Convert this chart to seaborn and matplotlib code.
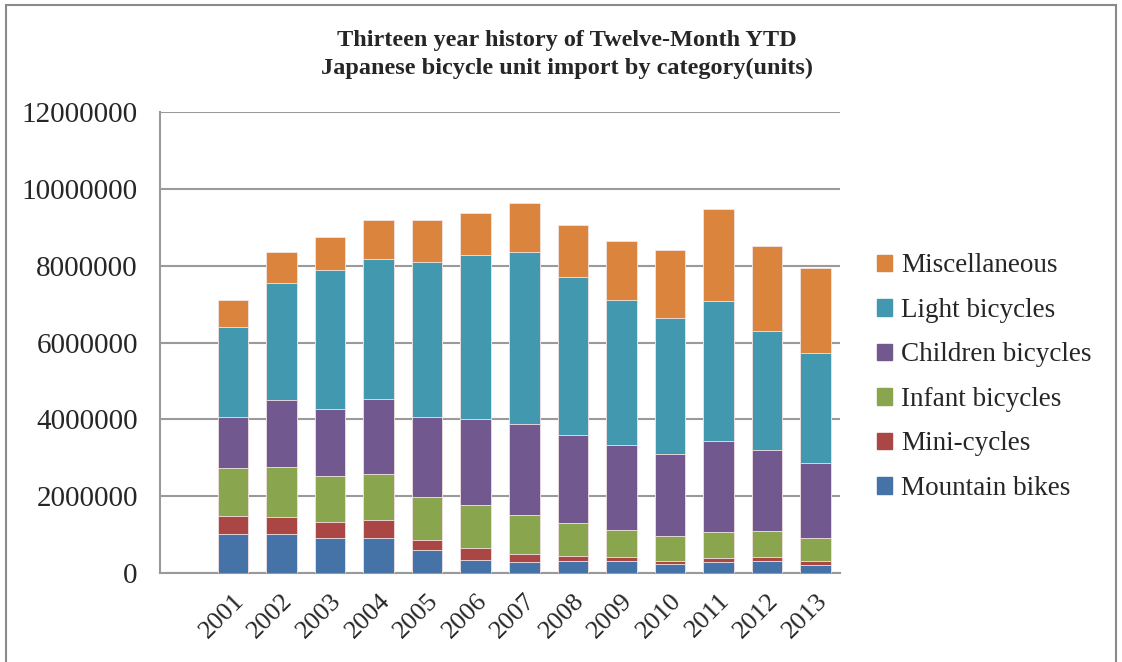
import numpy as np
import pandas as pd
import matplotlib
matplotlib.use("Agg")
import matplotlib.pyplot as plt
import matplotlib.patches as mpatches
import seaborn as sns

# ----------------------------------------------------------
# Data (units)
# ----------------------------------------------------------
years = ["2001", "2002", "2003", "2004", "2005", "2006", "2007",
         "2008", "2009", "2010", "2011", "2012", "2013"]

mountain = [1017000, 1017000, 920000, 920000, 590000, 350000, 300000,
            320000, 320000, 230000, 290000, 320000, 220000]
mini = [480000, 430000, 400000, 470000, 260000, 300000, 200000,
        130000, 100000, 90000, 100000, 100000, 100000]
infant = [1230000, 1320000, 1210000, 1200000, 1120000, 1110000, 1000000,
          840000, 710000, 640000, 670000, 670000, 600000]
children = [1330000, 1730000, 1740000, 1950000, 2090000, 2240000, 2370000,
            2310000, 2190000, 2140000, 2370000, 2100000, 1940000]
light = [2350000, 3050000, 3620000, 3640000, 4030000, 4280000, 4490000,
         4110000, 3790000, 3540000, 3640000, 3110000, 2880000]
misc = [710000, 810000, 860000, 1000000, 1090000, 1080000, 1260000,
        1340000, 1540000, 1780000, 2410000, 2210000, 2210000]

categories = ["Mountain bikes", "Mini-cycles", "Infant bicycles",
              "Children bicycles", "Light bicycles", "Miscellaneous"]
colors = ["#4572A7", "#AA4643", "#89A54E", "#71588F", "#4198AF", "#DB843D"]

df = pd.DataFrame({
    "Year": years,
    "Mountain bikes": mountain,
    "Mini-cycles": mini,
    "Infant bicycles": infant,
    "Children bicycles": children,
    "Light bicycles": light,
    "Miscellaneous": misc,
})

# cumulative totals for stacking
cum = df[categories].cumsum(axis=1)
cum["Year"] = df["Year"]

# ----------------------------------------------------------
# Plot
# ----------------------------------------------------------
sns.set_style("white")
plt.rcParams["font.family"] = ["Liberation Serif", "DejaVu Serif"]

fig = plt.figure(figsize=(11.22, 6.62), dpi=100)
ax = fig.add_axes([0.1426, 0.1344, 0.6061, 0.6964])

# draw tallest stack first, then overlay smaller ones
for cat, col in reversed(list(zip(categories, colors))):
    sns.barplot(data=cum, x="Year", y=cat, color=col, width=0.63,
                saturation=1, edgecolor="#f4e4e4", linewidth=0.6,
                ax=ax, zorder=3)

ax.set_xlim(-1.5, 12.5)
ax.set_ylim(0, 12000000)
ax.set_yticks(np.arange(0, 12000001, 2000000))
ax.set_yticklabels([f"{v:d}" for v in range(0, 12000001, 2000000)], fontsize=21)
ax.set_xticks(range(len(years)))
ax.set_xticklabels(years, fontsize=19, rotation=45, ha="right",
                   rotation_mode="anchor")
ax.tick_params(axis="both", length=0)
ax.tick_params(axis="y", pad=16)
ax.tick_params(axis="x", pad=12)
ax.set_xlabel("")
ax.set_ylabel("")

ax.yaxis.grid(True, color="#9a9a9a", linewidth=1.5, zorder=0)
ax.set_axisbelow(True)
for side in ["top", "right"]:
    ax.spines[side].set_visible(False)
for side in ["left", "bottom"]:
    ax.spines[side].set_color("#9a9a9a")
    ax.spines[side].set_linewidth(1.5)

# title centred on the figure
fig.text(0.505, 0.918, "Thirteen year history of Twelve-Month YTD\n"
         "Japanese bicycle unit import by category(units)",
         ha="center", va="center", fontsize=17.5, fontweight="bold",
         linespacing=1.45)

# legend (top entry = Miscellaneous)
handles = [mpatches.Patch(color=c, label=l)
           for l, c in reversed(list(zip(categories, colors)))]
fig.legend(handles=handles, loc="upper left", bbox_to_anchor=(0.760, 0.654),
           frameon=False, fontsize=19.5, handlelength=0.55, handleheight=0.55,
           handletextpad=0.35, labelspacing=0.72)

# outer chart frame
fig.patches.append(mpatches.Rectangle((0.005, -0.05), 0.99, 1.043,
                                      transform=fig.transFigure, fill=False,
                                      edgecolor="#8a8a8a", linewidth=1.5))

fig.savefig("out.png", dpi=100)
